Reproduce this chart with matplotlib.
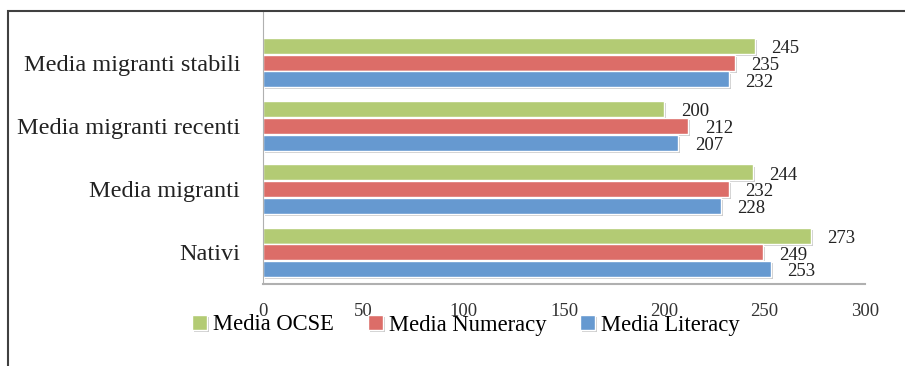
import matplotlib.pyplot as plt
import matplotlib.patheffects as pe
from matplotlib.patches import Rectangle
import numpy as np

categorie = ["Nativi", "Media migranti", "Media migranti recenti", "Media migranti stabili"]
ocse = [273, 244, 200, 245]
numeracy = [249, 232, 212, 235]
literacy = [253, 228, 207, 232]
serie = ["Media OCSE", "Media Numeracy", "Media Literacy"]
colori = ["#B3CB74", "#DC6D68", "#6699D0"]

plt.rcParams['font.family'] = ['Liberation Serif', 'DejaVu Serif']

fig = plt.figure(figsize=(9.05, 3.66), dpi=100)
# area del grafico: dal bordo superiore fino all'asse x
ax = fig.add_axes([263 / 905, 1 - 284 / 366, 602 / 905, 273 / 366])

y = np.arange(len(categorie))
h = 0.25
passo = 0.265
ombra = [pe.SimplePatchShadow(offset=(1.5, -1.5), shadow_rgbFace="#9a9a9a", alpha=0.5), pe.Normal()]

for i, (valori, nome, col) in enumerate(zip([ocse, numeracy, literacy], serie, colori)):
    pos = y + passo * (1 - i)
    barre = ax.barh(pos, valori, height=h, color=col, edgecolor="white", linewidth=1.0, label=nome)
    for b in barre:
        b.set_path_effects(ombra)
    for p, v in zip(pos, valori):
        ax.annotate(str(v), (v, p), xytext=(12, -2), textcoords="offset points",
                    va="center", ha="left", fontsize=13.5, color="#222222")

ax.set_xlim(0, 300)
ax.set_ylim(-0.5, -0.5 + 273 / 63.25)
ax.set_xticks(range(0, 301, 50))
ax.set_yticks(y)
ax.set_yticklabels(categorie, fontsize=17.5, color="#222222")
ax.tick_params(axis="y", length=0, pad=16.5)
ax.tick_params(axis="x", length=0, pad=14, labelsize=13.5, labelcolor="#333333")
for s in ["top", "right"]:
    ax.spines[s].set_visible(False)
ax.spines["left"].set_color("#b0b0b0")
ax.spines["bottom"].set_color("#b0b0b0")
ax.spines["bottom"].set_linewidth(1.5)

fig.legend(loc="center", bbox_to_anchor=(466 / 905, 1 - 325 / 366), ncol=3, frameon=False,
           fontsize=16.3, handlelength=0.65, handleheight=0.65, handletextpad=0.27, columnspacing=1.5)

# cornice esterna
fig.patches.append(Rectangle((8 / 905, -0.1), 1.2, 1 - 11 / 366 + 0.1, transform=fig.transFigure,
                             fill=False, edgecolor="#404040", linewidth=1.5, zorder=5))

fig.savefig("out.png", dpi=100)
